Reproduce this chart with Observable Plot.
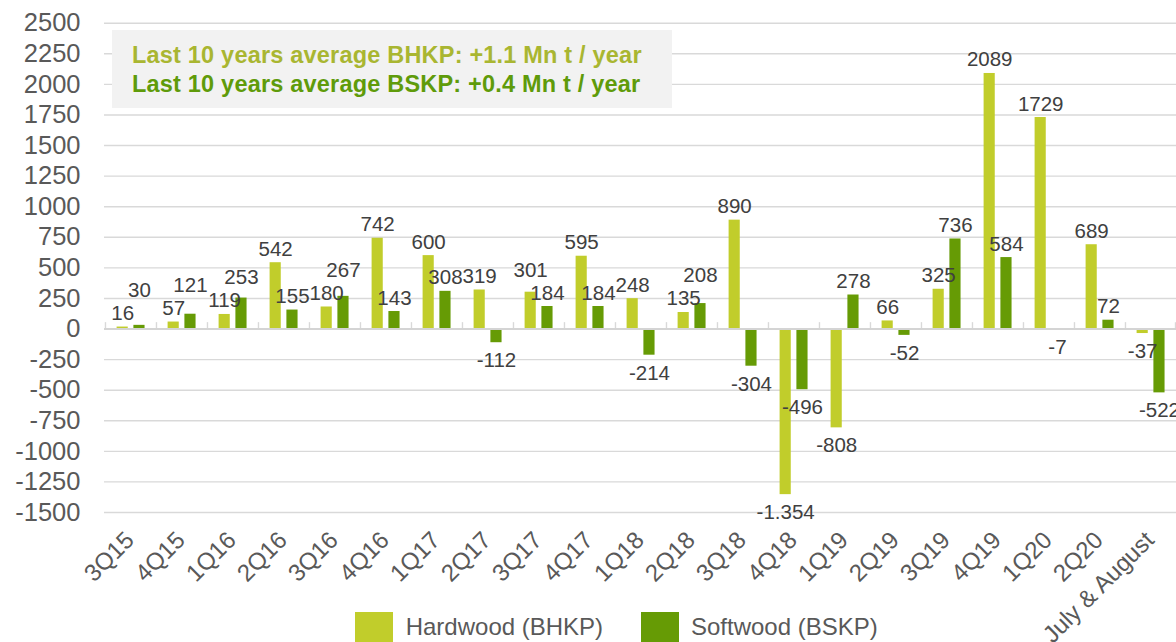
<!DOCTYPE html>
<html>
<head>
<meta charset="utf-8">
<script src="https://cdn.jsdelivr.net/npm/d3@7"></script>
<script src="https://cdn.jsdelivr.net/npm/@observablehq/plot@0.6"></script>
<style>
  html, body { margin: 0; padding: 0; background: #fff; }
  #wrap { position: relative; width: 1176px; font-family: "Liberation Sans", Arial, sans-serif; }
  #note {
    position: absolute; left: 112px; top: 30px; width: 540px; height: 67px;
    background: #f2f2f2; padding: 10.8px 0 0 20px; font-weight: bold; font-size: 23.5px; line-height: 29px;
    letter-spacing: 0.2px; white-space: nowrap;
  }
  #note .l1 { color: #a9b631; }
  #note .l2 { color: #5f9b0a; }
  #legend { position: relative; height: 30px; font-size: 24px; line-height: 30px; color: #595959; }
  #legend .sw { position: absolute; top: 0; width: 38px; height: 30px; }
  #legend .tx { position: absolute; top: 0; white-space: nowrap; }
  svg { overflow: visible; }
</style>
</head>
<body>
<div id="wrap">
  <div id="chart"></div>
  <div id="note"><div class="l1"></div><div class="l2"></div></div>
  <div id="legend"></div>
</div>
<script>
const categories = ["3Q15","4Q15","1Q16","2Q16","3Q16","4Q16","1Q17","2Q17","3Q17","4Q17","1Q18","2Q18","3Q18","4Q18","1Q19","2Q19","3Q19","4Q19","1Q20","2Q20","July & August"];
const hardwood = [16, 57, 119, 542, 180, 742, 600, 319, 301, 595, 248, 135, 890, -1354, -808, 66, 325, 2089, 1729, 689, -37];
const softwood = [30, 121, 253, 155, 267, 143, 308, -112, 184, 184, -214, 208, -304, -496, 278, -52, 736, 584, -7, 72, -522];
const seriesNames = ["Hardwood (BHKP)", "Softwood (BSKP)"];
const seriesColors = ["#c1cd2b", "#669b05"];
const yTicks = [-1500, -1250, -1000, -750, -500, -250, 0, 250, 500, 750, 1000, 1250, 1500, 1750, 2000, 2250, 2500];
const noteLines = ["Last 10 years average BHKP: +1.1 Mn t / year", "Last 10 years average BSKP: +0.4 Mn t / year"];

const W = 1176, H = 612, ML = 104, MR = 0, MT = 22.7, MB = 100;
const yDomain = [-1500, 2500];
const step = (W - ML - MR) / categories.length;
const barW = 11.2;
const hLeft = 11.6, sLeft = 28.4;
const pxPerUnit = (H - MB - MT) / (yDomain[1] - yDomain[0]);

// label placement: default 7px above positive bars; when the two labels of a
// group would collide, lift the taller bar's label clear of the other one
const labelGap = 7, lineStep = 23;
const rows = [];
categories.forEach((c, i) => {
  const h = hardwood[i], s = softwood[i];
  let liftH = 0, liftS = 0;
  if (h >= 0 && s >= 0) {
    const diffPx = Math.abs(h - s) * pxPerUnit;
    if (diffPx < lineStep) {
      if (s >= h) liftS = lineStep - diffPx; else liftH = lineStep - diffPx;
    }
  }
  rows.push({cat: c, series: 0, value: h, lift: liftH});
  rows.push({cat: c, series: 1, value: s, lift: liftS});
});
const hRows = rows.filter(d => d.series === 0);
const sRows = rows.filter(d => d.series === 1);

const dotFmt = d3.formatLocale({decimal: ",", thousands: ".", grouping: [3], currency: ["", ""], minus: "-"}).format(",d");
const labelText = d => d.value <= -1000 ? dotFmt(d.value) : String(d.value);

function labels(rs, dx) {
  return [
    Plot.text(rs.filter(d => d.value >= 0), {x: "cat", y: d => d.value + d.lift / pxPerUnit, text: labelText, dx, dy: -labelGap, lineAnchor: "bottom", fontSize: 20.5, fill: "#404040"}),
    Plot.text(rs.filter(d => d.value < 0), {x: "cat", y: "value", text: labelText, dx, dy: 10, lineAnchor: "top", fontSize: 20.5, fill: "#404040"})
  ];
}

const hCenter = hLeft + barW / 2 - step / 2;
const sCenter = sLeft + barW / 2 - step / 2;

const chart = Plot.plot({
  width: W, height: H,
  marginLeft: ML, marginRight: MR, marginTop: MT, marginBottom: MB,
  x: {domain: categories, padding: 0, axis: null},
  y: {domain: yDomain, axis: null},
  style: {fontFamily: "'Liberation Sans', Arial, sans-serif", color: "#595959", background: "transparent", overflow: "visible"},
  marks: [
    Plot.ruleY(yTicks.filter(v => v !== 0), {stroke: "#d9d9d9", strokeWidth: 1.4}),
    Plot.ruleX(categories, {x: d => d, dx: -step / 2, y1: 0, y2: 52, stroke: "#d9d9d9", strokeWidth: 1.4}),
    Plot.ruleX([categories[categories.length - 1]], {x: d => d, dx: step / 2 - 1, y1: 0, y2: 52, stroke: "#d9d9d9", strokeWidth: 1.4}),
    Plot.barY(hRows, {x: "cat", y: "value", fill: seriesColors[0], insetLeft: hLeft, insetRight: step - hLeft - barW}),
    Plot.barY(sRows, {x: "cat", y: "value", fill: seriesColors[1], insetLeft: sLeft, insetRight: step - sLeft - barW}),
    Plot.ruleY([0], {stroke: "#d4d4d4", strokeWidth: 2}),
    ...labels(hRows, hCenter),
    ...labels(sRows, sCenter),
    Plot.axisY({ticks: yTicks, tickSize: 0, tickPadding: 24, fontSize: 25.5, tickFormat: d => String(d), fill: "#595959", label: null}),
    Plot.text(categories, {x: d => d, y: yDomain[0], text: d => d, dx: 4.5, dy: 29, rotate: -45, textAnchor: "end", lineAnchor: "bottom", fontSize: 24, fill: "#595959"})
  ]
});
document.getElementById("chart").appendChild(chart);

document.querySelector("#note .l1").textContent = noteLines[0];
document.querySelector("#note .l2").textContent = noteLines[1];

const legend = document.getElementById("legend");
const swLeft = [355, 641], txLeft = [405.7, 691];
seriesNames.forEach((name, i) => {
  const sw = document.createElement("div");
  sw.className = "sw"; sw.style.left = swLeft[i] + "px"; sw.style.background = seriesColors[i];
  const tx = document.createElement("div");
  tx.className = "tx"; tx.style.left = txLeft[i] + "px"; tx.textContent = name;
  legend.appendChild(sw); legend.appendChild(tx);
});
</script>
</body>
</html>
